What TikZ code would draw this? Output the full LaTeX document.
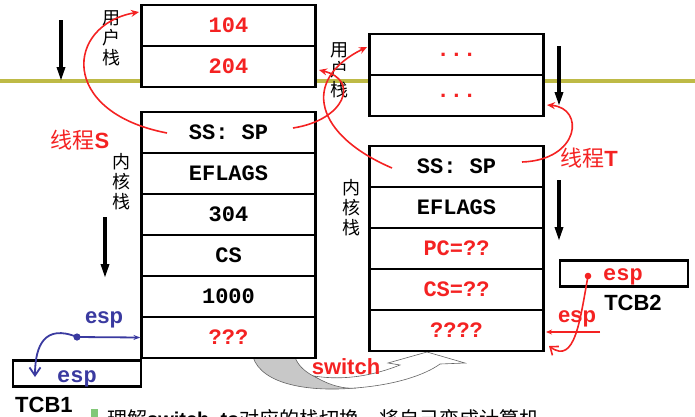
\documentclass[tikz,border=0pt]{standalone}
\usepackage{fontspec}
\setmainfont{Liberation Sans}
\newfontfamily\courf{Liberation Mono}
\newfontfamily\cjkf{Noto Sans CJK SC}
\newfontfamily\latf{Liberation Sans}
\usetikzlibrary{arrows.meta}
\definecolor{myred}{HTML}{F42222}
\definecolor{myblue}{HTML}{3A3AA0}
\definecolor{olivel}{RGB}{190,186,70}
\definecolor{swgray}{RGB}{200,200,200}
\definecolor{swline}{RGB}{100,100,100}
\definecolor{bulletg}{RGB}{130,200,120}
\begin{document}
\begin{tikzpicture}[x=1pt,y=-1pt,
  cell/.style={draw, line width=2.2pt, fill=white, minimum width=174pt, minimum height=41pt, inner sep=0pt,
    font=\courf\bfseries\fontsize{22}{24}\selectfont},
  vlabel/.style={font=\cjkf\fontsize{18}{20}\selectfont, align=center, inner sep=0pt},
  tcbbox/.style={draw, line width=2.2pt, fill=white, minimum width=128pt, minimum height=26pt, inner sep=0pt},
  sanslab/.style={font=\bfseries\fontsize{22}{24}\selectfont, inner sep=0pt},
  courlab/.style={font=\courf\bfseries\fontsize{22}{24}\selectfont, inner sep=0pt},
  redcurve/.style={draw=myred, line width=1.6pt, -{Stealth[length=8pt,width=7pt]}},
  redbarb/.style={draw=myred, line width=1.6pt, -{Straight Barb[length=7pt,width=11pt]}},
  bluebarb/.style={draw=myblue, line width=1.8pt, -{Straight Barb[length=8pt,width=11pt]}},
  downarrow/.style={draw=black, line width=3.2pt, -{Triangle[length=14pt,width=8pt]}},
  swshape/.style={draw=swline, line width=0.6pt},
]
\useasboundingbox (0,0) rectangle (695,416);
\clip (0,0) rectangle (695,416);

% olive separator line
\coordinate (yl) at (0,81);
\coordinate (yr) at (695,81);
\draw[olivel, line width=3.5pt] (yl) -- (yr);

% switch curved arrow
\filldraw[swshape, fill=swgray] (253,357) .. controls (262,385) and (310,392) .. (355,388)
  .. controls (320,383) and (300,372) .. (295,357) -- cycle;
\filldraw[swshape, fill=white] (314,376) .. controls (330,386) and (345,389) .. (355,388)
  .. controls (395,385) and (425,375) .. (440,364) -- (465,363) -- (427,352) -- (388,363) -- (400,365)
  .. controls (375,375) and (345,381) .. (314,376) -- cycle;

% left stacks
\node[cell, text=myred] (s1) at (228.5,25.5) {104};
\node[cell, text=myred] (s2) at (228.5,66.5) {204};
\node[cell] (k1) at (228.5,132.5) {SS: SP};
\node[cell] (k2) at (228.5,173.5) {EFLAGS};
\node[cell] (k3) at (228.5,214.5) {304};
\node[cell] (k4) at (228.5,255.5) {CS};
\node[cell] (k5) at (228.5,296.5) {1000};
\node[cell, text=myred] (k6) at (228.5,337.5) {???};

% right stacks
\node[cell, text=myred] (t1) at (456.5,54.5) {...};
\node[cell, text=myred] (t2) at (456.5,95.5) {...};
\node[cell] (u1) at (456.5,166.5) {SS: SP};
\node[cell] (u2) at (456.5,207.5) {EFLAGS};
\node[cell, text=myred] (u3) at (456.5,248.5) {PC=??};
\node[cell, text=myred] (u4) at (456.5,289.5) {CS=??};
\node[cell, text=myred] (u5) at (456.5,330.5) {????};

% vertical labels
\node[vlabel] (lu) at (111,38) {用\\户\\栈};
\node[vlabel] (lk) at (121,182) {内\\核\\栈};
\node[vlabel] (ru) at (339,70) {用\\户\\栈};
\node[vlabel] (rk) at (351,208) {内\\核\\栈};

% black growth arrows
\coordinate (a1s) at (61,20);  \coordinate (a1e) at (61,81);
\coordinate (a2s) at (105,217); \coordinate (a2e) at (105,278);
\coordinate (a3s) at (559,46); \coordinate (a3e) at (559,106);
\coordinate (a4s) at (559,180); \coordinate (a4e) at (559,241);
\draw[downarrow] (a1s) -- (a1e);
\draw[downarrow] (a2s) -- (a2e);
\draw[downarrow] (a3s) -- (a3e);
\draw[downarrow] (a4s) -- (a4e);

% TCBs
\node[tcbbox] (tcb1) at (77,373.5) {};
\node[tcbbox] (tcb2) at (624,273.5) {};
\node[courlab, text=myblue, anchor=base] (e1) at (77,382) {esp};
\node[courlab, text=myred, anchor=base] (e2) at (623,280) {esp};
\node[sanslab, anchor=west] (tl1) at (15,405) {TCB1};
\node[sanslab] (tl2) at (633,303) {TCB2};

% thread labels
\node[inner sep=0pt, text=myred, font=\fontsize{22}{24}\selectfont] (thS) at (80,140) {{\cjkf 线程}{\bfseries S}};
\node[inner sep=0pt, text=myred, font=\fontsize{22}{24}\selectfont] (thT) at (589,158) {{\cjkf 线程}{\bfseries T}};

% red pointers
\coordinate (cA) at (167,133); \coordinate (cAe) at (139,12);
\coordinate (cB) at (293,128); \coordinate (cBe) at (319,70);
\coordinate (cC) at (392,168); \coordinate (cCe) at (367,47);
\coordinate (cD) at (522,162); \coordinate (cDe) at (547,105);
\draw[redcurve] (cA) .. controls (58,112) and (66,25) .. (cAe);
\draw[redcurve] (cB) .. controls (345,120) and (360,80) .. (cBe);
\draw[redcurve] (cC) .. controls (315,135) and (300,80) .. (cCe);
\draw[redcurve] (cD) .. controls (580,160) and (585,108) .. (cDe);

% TCB2 esp
\coordinate (dR) at (588,276);
\coordinate (cEe) at (549,346);
\fill[myred] (dR) circle (3.3);
\draw[redbarb] (dR) .. controls (580,320) and (575,365) .. (cEe);
\node[sanslab, text=myred, anchor=base] (el2) at (577,322) {esp};
\coordinate (eR) at (600,332);
\coordinate (eRe) at (546,332);
\draw[myred, line width=1.6pt, -{Stealth[length=6pt,width=5pt]}] (eR) -- (eRe);

% TCB1 esp
\coordinate (dB) at (77,337);
\coordinate (bEe) at (35,377);
\fill[myblue] (dB) circle (3.6);
\draw[myblue, line width=1.8pt, -{Stealth[length=7pt,width=5pt]}] (dB) -- (k6.west);
\draw[bluebarb] (dB) .. controls (45,324) and (35,345) .. (bEe);
\node[sanslab, text=myblue, anchor=base] (el1) at (104,323) {esp};

% switch label
\node[sanslab, text=myred] (sw) at (346,367) {switch};

% bottom (cut-off) caption line
\fill[bulletg] (91,409) rectangle (98,418);
\node[anchor=base west, inner sep=0pt, font=\cjkf\fontsize{20}{22}\selectfont] (cap) at (107,426)
  {理解{\latf\bfseries switch\_to}对应的栈切换，将自己变成计算机};
\end{tikzpicture}
\end{document}
